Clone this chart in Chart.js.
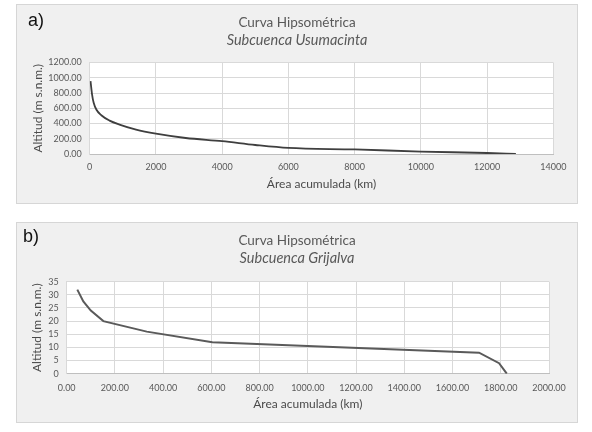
<!DOCTYPE html>
<html><head><meta charset="utf-8">
<script src="https://cdn.jsdelivr.net/npm/chart.js@4"></script>
<style>
html,body{margin:0;padding:0;background:#fff;width:592px;height:432px;overflow:hidden;}
.panel{position:absolute;left:16px;width:560px;border:1px solid #d6d6d6;background:#f0f0f0;}
.panel canvas{display:block;}
.lab{position:absolute;font-family:"Liberation Sans",Arial,sans-serif;font-size:18px;color:#111;}
</style></head>
<body>
<div class="panel" style="top:4px;height:198px;"><canvas id="ca" width="560" height="198"></canvas></div>
<div class="panel" style="top:222px;height:199px;"><canvas id="cb" width="560" height="199"></canvas></div>
<div class="lab" style="left:28px;top:10px;">a)</div>
<div class="lab" style="left:23px;top:226px;">b)</div>
<script>
// Chart a: Subcuenca Usumacinta
const areaA = [25, 72, 120, 200, 350, 600, 900, 1400, 2000, 2900, 4000, 5000, 6000, 8000, 10000, 12000, 12870];
const altA  = [955, 780, 671, 583, 508, 438, 386, 320, 267, 210, 168, 118, 79, 60, 32, 13, 0];
// Chart b: Subcuenca Grijalva
const areaB = [44, 69, 100, 152, 332, 604, 1710, 1793, 1825];
const altB  = [32, 27.5, 24, 20, 16, 12, 8, 4, 0];

const titleMain = "Curva Hipsométrica";
const subA = "Subcuenca Usumacinta";
const subB = "Subcuenca Grijalva";
const yTitle = "Altitud (m s.n.m.)";
const xTitle = "Área acumulada (km)";

const FONT = "Lato, 'Open Sans', sans-serif";
const GRID = '#d9d9d9';
const TXT = '#595959';
const AXT = '#4a4a4a';

const plotBg = {
  id: 'plotBg',
  beforeDraw(chart) {
    const {ctx, chartArea: a} = chart;
    ctx.save(); ctx.fillStyle = '#ffffff';
    ctx.fillRect(a.left, a.top, a.right - a.left, a.bottom - a.top);
    ctx.restore();
  }
};

function makeChart(id, xs, ys, sub, opts) {
  const pts = xs.map((x, i) => ({x, y: ys[i]}));
  return new Chart(document.getElementById(id), {
    type: 'scatter',
    data: { datasets: [{ data: pts, showLine: true, borderColor: opts.lineColor, borderWidth: opts.lineWidth,
      pointRadius: 0, tension: opts.tension, cubicInterpolationMode: opts.tension ? 'monotone' : 'default', fill: false }] },
    plugins: [plotBg],
    options: {
      responsive: false, animation: false, devicePixelRatio: 1,
      layout: { padding: 0 },
      plugins: {
        legend: { display: false }, tooltip: { enabled: false },
        title: { display: true, text: titleMain, color: TXT, font: { family: FONT, size: 13.5, weight: 'normal', lineHeight: 1.2 }, padding: { top: 9.9, bottom: 0 } },
        subtitle: { display: true, text: sub, color: TXT, font: { family: FONT, size: 14.5, style: 'italic', lineHeight: 1.2 }, padding: { top: 0.9, bottom: opts.subPadBottom } }
      },
      scales: {
        x: {
          type: 'linear', min: opts.xMin, max: opts.xMax,
          afterFit(s) { s.height = opts.xHeight; },
          ticks: { stepSize: opts.xStep, color: TXT, padding: opts.xTickPad, maxRotation: 0, autoSkip: false,
            font: { family: FONT, size: 9 }, callback: opts.xFmt },
          grid: { color: GRID, lineWidth: 1, drawTicks: false },
          border: { color: '#bfbfbf' },
          title: { display: true, text: xTitle, color: AXT, font: { family: FONT, size: 12, lineHeight: 1.2 }, padding: { top: 0, bottom: opts.xTitlePad } }
        },
        y: {
          type: 'linear', min: 0, max: opts.yMax,
          afterFit(s) { s.width = opts.yWidth; },
          ticks: { stepSize: opts.yStep, color: TXT, padding: 8, autoSkip: false,
            font: { family: FONT, size: 9 }, callback: opts.yFmt },
          grid: { color: GRID, lineWidth: 1, drawTicks: false },
          border: { color: GRID },
          title: { display: true, text: yTitle, color: AXT, font: { family: FONT, size: 12, lineHeight: 1.2 }, padding: { top: opts.yTitlePad, bottom: 0 } }
        },
        yR: {
          type: 'linear', position: 'right', display: true,
          afterFit(s) { s.width = opts.padRight; },
          ticks: { display: false },
          grid: { display: false, drawTicks: false },
          border: { display: false }
        }
      }
    }
  });
}

makeChart('ca', areaA, altA, subA, {
  lineColor: '#3f3f3f', lineWidth: 1.8, tension: 0.4,
  padRight: 23.7, subPadBottom: 13.1,
  xMin: 0, xMax: 14000, xStep: 2000, xHeight: 49, xTickPad: 7.9, xTitlePad: 11.5,
  xFmt: v => String(v),
  yMax: 1200, yStep: 200, yWidth: 72.7, yTitlePad: 14,
  yFmt: v => Number(v).toFixed(2)
});

makeChart('cb', areaB, altB, subB, {
  lineColor: '#5a5a5a', lineWidth: 2, tension: 0,
  padRight: 28, subPadBottom: 14.3,
  xMin: 0, xMax: 2000, xStep: 200, xHeight: 48.3, xTickPad: 8.6, xTitlePad: 10.8,
  xFmt: v => Number(v).toFixed(2),
  yMax: 35, yStep: 5, yWidth: 49.7, yTitlePad: 13,
  yFmt: v => String(v)
});
</script>
</body></html>
